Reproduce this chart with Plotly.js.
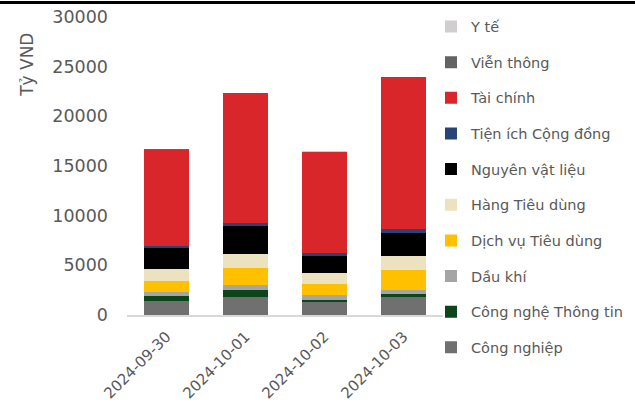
<!DOCTYPE html>
<html>
<head>
<meta charset="utf-8">
<script src="https://cdn.plot.ly/plotly-3.0.1.min.js"></script>
<style>html,body{margin:0;padding:0;background:#fff;}#chart{width:635px;height:402px;}</style>
</head>
<body>
<div id="chart"></div>
<script>
var dates = ["2024-09-30", "2024-10-01", "2024-10-02", "2024-10-03"];
var sectors = ["Công nghiệp", "Công nghệ Thông tin", "Dầu khí", "Dịch vụ Tiêu dùng", "Hàng Tiêu dùng", "Nguyên vật liệu", "Tiện ích Cộng đồng", "Tài chính", "Viễn thông", "Y tế"];
var congNghiep = [1440, 1840, 1310, 1780];
var congNgheTT = [440, 700, 200, 340];
var dauKhi = [470, 500, 470, 430];
var dichVuTD = [1100, 1710, 1140, 1980];
var hangTD = [1170, 1370, 1070, 1410];
var nguyenVL = [2140, 2890, 1780, 2350];
var tienIch = [200, 300, 230, 340];
var taiChinh = [9700, 13030, 10220, 15330];
var vienThong = [20, 20, 20, 20];
var yTe = [30, 30, 30, 30];
var colors = ["#707070", "#0B4519", "#A5A5A5", "#FFC000", "#EDE2BF", "#000000", "#264478", "#D9262B", "#636363", "#D0CECE"];
var seriesVals = [congNghiep, congNgheTT, dauKhi, dichVuTD, hangTD, nguyenVL, tienIch, taiChinh, vienThong, yTe];

var traces = sectors.map(function(name, i) {
  return {
    type: "bar",
    name: name,
    x: dates,
    y: seriesVals[i],
    legendgroup: "g" + i,
    legendrank: 1000 - i,
    marker: {color: colors[i], line: {width: 0}},
    hoverinfo: "name+y"
  };
});

var textColor = "#595959";
var layout = {
  width: 635, height: 402,
  margin: {l: 127, r: 192, t: 17, b: 87, autoexpand: false},
  barmode: "stack",
  bargap: 0.43,
  paper_bgcolor: "#fff",
  plot_bgcolor: "#fff",
  font: {family: "DejaVu Sans, sans-serif", color: textColor, size: 15},
  xaxis: {
    type: "category",
    tickangle: -45,
    showline: true, linecolor: "#D9D9D9", linewidth: 2,
    showgrid: false, zeroline: false, ticks: "",
    ticklabelstandoff: 5,
    tickfont: {size: 15, color: textColor}
  },
  yaxis: {
    range: [0, 30000],
    dtick: 5000,
    showgrid: false, zeroline: false, showline: false, ticks: "",
    tickformat: "d",
    ticklabelstandoff: 18,
    tickfont: {size: 17.5, color: textColor}
  },
  legend: {
    x: 0.962, xanchor: "left",
    y: 1.0216, yanchor: "top",
    traceorder: "grouped",
    tracegroupgap: 13.8,
    itemwidth: 30,
    maxheight: 400,
    font: {size: 14.5, color: textColor},
    bgcolor: "rgba(0,0,0,0)"
  },
  annotations: [{
    text: "Tỷ VND",
    xref: "paper", yref: "paper",
    x: -0.316, y: 0.84,
    xanchor: "center", yanchor: "middle",
    textangle: -90,
    showarrow: false,
    font: {size: 17, color: textColor}
  }],
  shapes: [{
    type: "line", xref: "paper", yref: "paper",
    x0: -0.41, x1: 1.62, y0: 1.049, y1: 1.049,
    line: {color: "#000", width: 3}
  }]
};

Plotly.newPlot("chart", traces, layout, {displayModeBar: false, staticPlot: true});
</script>
</body>
</html>
